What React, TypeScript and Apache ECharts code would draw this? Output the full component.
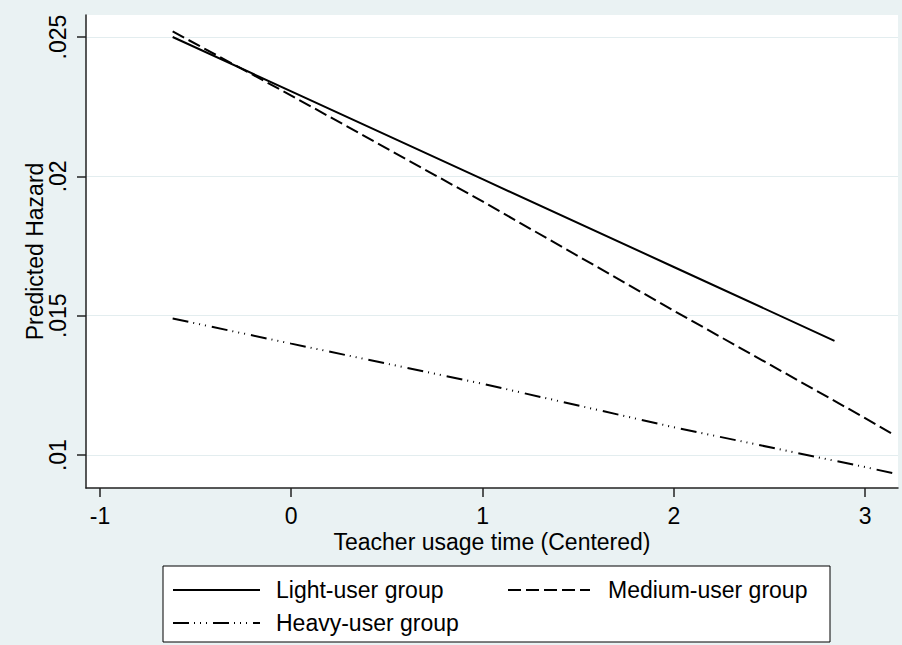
import React, { useEffect, useRef } from "react";
import * as echarts from "echarts";

const X_TICKS = [-1, 0, 1, 2, 3];
const Y_TICKS = [0.01, 0.015, 0.02, 0.025];

const LIGHT_X = [-0.62, 0, 1, 2, 2.84];
const LIGHT_Y = [0.025, 0.02305, 0.0199, 0.01675, 0.0141];

const MEDIUM_X = [-0.62, 0, 1, 2, 3, 3.146];
const MEDIUM_Y = [0.0252, 0.0229, 0.0191, 0.01518, 0.01133, 0.01075];

const HEAVY_X = [-0.62, 0, 1, 2, 3, 3.146];
const HEAVY_Y = [0.0149, 0.014, 0.01256, 0.011, 0.00957, 0.00935];

const SERIES_NAMES = ["Light-user group", "Medium-user group", "Heavy-user group"];

const FONT = "'Liberation Sans', Arial, Helvetica, sans-serif";
const DASH_MEDIUM = [13, 5];
const DASH_HEAVY = [16, 5, 1, 5, 1, 5, 1, 6];

const pairs = (xs: number[], ys: number[]) => xs.map((x, i) => [x, ys[i]]);

export default function App() {
  const ref = useRef<HTMLDivElement>(null);
  useEffect(() => {
    if (!ref.current) return;
    const chart = echarts.init(ref.current, undefined, { renderer: "svg" });
    const option: any = {
      animation: false,
      backgroundColor: "#EAF2F3",
      textStyle: { fontFamily: FONT },
      grid: {
        left: 86,
        right: 4,
        top: 15,
        bottom: 157,
        show: true,
        backgroundColor: "#ffffff",
        borderWidth: 0,
      },
      xAxis: {
        type: "value",
        min: -1.073,
        max: 3.172,
        name: "Teacher usage time (Centered)",
        nameLocation: "middle",
        nameGap: 42,
        nameMoveOverlap: false,
        nameTextStyle: { fontSize: 23, color: "#000", fontFamily: FONT },
        axisLine: { show: true, onZero: false, lineStyle: { color: "#222", width: 1.5 } },
        axisTick: { show: true, length: 9, customValues: X_TICKS, lineStyle: { color: "#222", width: 1.5 } },
        axisLabel: {
          customValues: X_TICKS,
          fontSize: 23,
          color: "#000",
          margin: 16,
          fontFamily: FONT,
          formatter: (v: number) => String(v),
        },
        splitLine: { show: false },
      },
      yAxis: {
        type: "value",
        min: 0.00882,
        max: 0.02579,
        name: "Predicted Hazard",
        nameLocation: "middle",
        nameGap: 40,
        nameMoveOverlap: false,
        nameTextStyle: { fontSize: 23, color: "#000", fontFamily: FONT },
        axisLine: { show: true, onZero: false, lineStyle: { color: "#222", width: 1.5 } },
        axisTick: { show: true, length: 9, customValues: Y_TICKS, lineStyle: { color: "#222", width: 1.5 } },
        axisLabel: {
          customValues: Y_TICKS,
          rotate: 90,
          fontSize: 23,
          color: "#000",
          margin: 17,
          fontFamily: FONT,
          formatter: (v: number) => String(v).replace(/^0\./, "."),
        },
        splitLine: { show: true, lineStyle: { color: "#E3EDEF", width: 1.2 } },
      },
      series: [
        {
          name: SERIES_NAMES[0],
          type: "line",
          symbol: "none",
          data: pairs(LIGHT_X, LIGHT_Y),
          lineStyle: { color: "#000", width: 2, type: "solid" },
        },
        {
          name: SERIES_NAMES[1],
          type: "line",
          symbol: "none",
          data: pairs(MEDIUM_X, MEDIUM_Y),
          lineStyle: { color: "#000", width: 2, type: DASH_MEDIUM },
        },
        {
          name: SERIES_NAMES[2],
          type: "line",
          symbol: "none",
          data: pairs(HEAVY_X, HEAVY_Y),
          lineStyle: { color: "#000", width: 2, type: DASH_HEAVY },
        },
      ],
      graphic: [
        {
          type: "rect",
          shape: { x: 163, y: 566, width: 667, height: 76 },
          style: { fill: "#ffffff", stroke: "#000", lineWidth: 1 },
        },
        {
          type: "line",
          shape: { x1: 173, y1: 590, x2: 260, y2: 590 },
          style: { stroke: "#000", lineWidth: 2 },
        },
        {
          type: "text",
          x: 276,
          y: 590,
          style: { text: SERIES_NAMES[0], fontSize: 23, fill: "#000", fontFamily: FONT, verticalAlign: "middle" },
        },
        {
          type: "line",
          shape: { x1: 508, y1: 590, x2: 590, y2: 590 },
          style: { stroke: "#000", lineWidth: 2, lineDash: DASH_MEDIUM },
        },
        {
          type: "text",
          x: 608,
          y: 590,
          style: { text: SERIES_NAMES[1], fontSize: 23, fill: "#000", fontFamily: FONT, verticalAlign: "middle" },
        },
        {
          type: "line",
          shape: { x1: 173, y1: 623, x2: 260, y2: 623 },
          style: { stroke: "#000", lineWidth: 2, lineDash: DASH_HEAVY },
        },
        {
          type: "text",
          x: 276,
          y: 623,
          style: { text: SERIES_NAMES[2], fontSize: 23, fill: "#000", fontFamily: FONT, verticalAlign: "middle" },
        },
      ],
    };
    chart.setOption(option);
    return () => chart.dispose();
  }, []);
  return (
    <div
      ref={ref}
      style={{ position: "fixed", left: 0, top: 0, width: 902, height: 645 }}
    />
  );
}
